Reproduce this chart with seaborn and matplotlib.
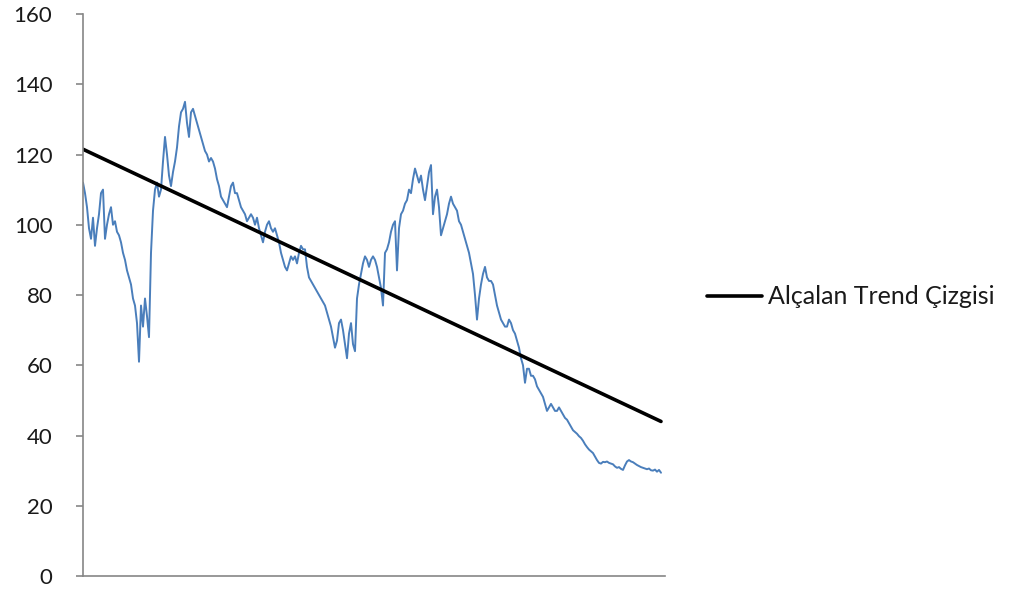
import matplotlib
matplotlib.use("Agg")
import matplotlib.pyplot as plt
import seaborn as sns
import pandas as pd
import numpy as np

# Price series, one reading per step (10 readings per row)
price = [
    112, 109, 105, 99, 96, 102, 94, 99, 103, 109,
    110, 96, 100, 103, 105, 100, 101, 98, 97, 95,
    92, 90, 87, 85, 83, 79, 77, 72, 61, 77,
    71, 79, 74, 68, 92, 104, 110, 112, 108, 110,
    118, 125, 120, 114, 111, 115, 118, 122, 128, 132,
    133, 135, 129, 125, 132, 133, 131, 129, 127, 125,
    123, 121, 120, 118, 119, 118, 116, 113, 111, 108,
    107, 106, 105, 108, 111, 112, 109, 109, 107, 105,
    104, 103, 101, 102, 103, 102, 100, 102, 99, 97,
    95, 98, 100, 101, 99, 98, 99, 97, 95, 92,
    90, 88, 87, 89, 91, 90, 91, 89, 92, 94,
    93, 93, 88, 85, 84, 83, 82, 81, 80, 79,
    78, 77, 75, 73, 71, 68, 65, 67, 72, 73,
    70, 66, 62, 69, 72, 66, 64, 79, 83, 86,
    89, 91, 90, 88, 90, 91, 90, 88, 85, 82,
    77, 92, 93, 95, 98, 100, 101, 87, 99, 103,
    104, 106, 107, 110, 109, 113, 116, 114, 112, 114,
    110, 107, 111, 115, 117, 103, 108, 110, 105, 97,
    99, 101, 103, 106, 108, 106, 105, 104, 101, 100,
    98, 96, 94, 92, 89, 86, 80, 73, 79, 83,
    86, 88, 85, 84, 84, 83, 80, 77, 75, 73,
    72, 71, 71, 73, 72, 70, 69, 67, 65, 62,
    60, 55, 59, 59, 57, 57, 56, 54, 53, 52,
    51, 49, 47, 48, 49, 48, 47, 47, 48, 47,
    46, 45, 44.5, 43.5, 42.5, 41.5, 41, 40.5, 39.8, 39.3,
    38.5, 37.5, 36.7, 36, 35.5, 35, 34, 33, 32.2, 32,
    32.5, 32.4, 32.6, 32.2, 32, 31.8, 31.2, 30.8, 31, 30.5,
    30.2, 31.5, 32.6, 33, 32.6, 32.4, 32, 31.6, 31.3, 31,
    30.8, 30.6, 30.4, 30.6, 30.1, 30, 30.3, 29.7, 30.2, 29.4,
]

# Descending trend line end points
trend_x = [0, len(price) - 1]
trend_y = [121.5, 44.0]

y_ticks = [0, 20, 40, 60, 80, 100, 120, 140, 160]
trend_label = "Alçalan Trend Çizgisi"

sns.set_theme(style="white")
plt.rcParams["font.family"] = ["Lato", "DejaVu Sans"]

fig = plt.figure(figsize=(10.14, 5.92), dpi=100)
ax = fig.add_axes([83 / 1014, 1 - 576 / 592, (665 - 83) / 1014, (576 - 14) / 592])

price_df = pd.DataFrame({"t": np.arange(len(price)), "price": price})
trend_df = pd.DataFrame({"t": trend_x, "price": trend_y})

sns.lineplot(data=price_df, x="t", y="price", ax=ax, color="#4a7ebb",
             linewidth=1.4, legend=False)
sns.lineplot(data=trend_df, x="t", y="price", ax=ax, color="black",
             linewidth=2.6, label=trend_label)

ax.set_xlim(0, 291)
ax.set_ylim(0, 160)
ax.set_yticks(y_ticks)
ax.set_yticklabels([str(v) for v in y_ticks])
ax.set_xticks([])
ax.set_xlabel("")
ax.set_ylabel("")

for side in ("top", "right"):
    ax.spines[side].set_visible(False)
for side in ("left", "bottom"):
    ax.spines[side].set_color("#868686")
    ax.spines[side].set_linewidth(1.2)

ax.tick_params(axis="y", which="major", left=True, direction="out", length=5,
               width=1.2, color="#868686", labelsize=16, labelcolor="#1a1a1a", pad=17)

handles, labels = ax.get_legend_handles_labels()
ax.get_legend().remove()
fig.legend(handles, labels, loc="center left", bbox_to_anchor=(707 / 1014, 1 - 297 / 592),
           frameon=False, fontsize=18, handlelength=2.2, handletextpad=0.25,
           labelcolor="#1a1a1a", borderaxespad=0, borderpad=0)

fig.savefig("out.png", dpi=100)
